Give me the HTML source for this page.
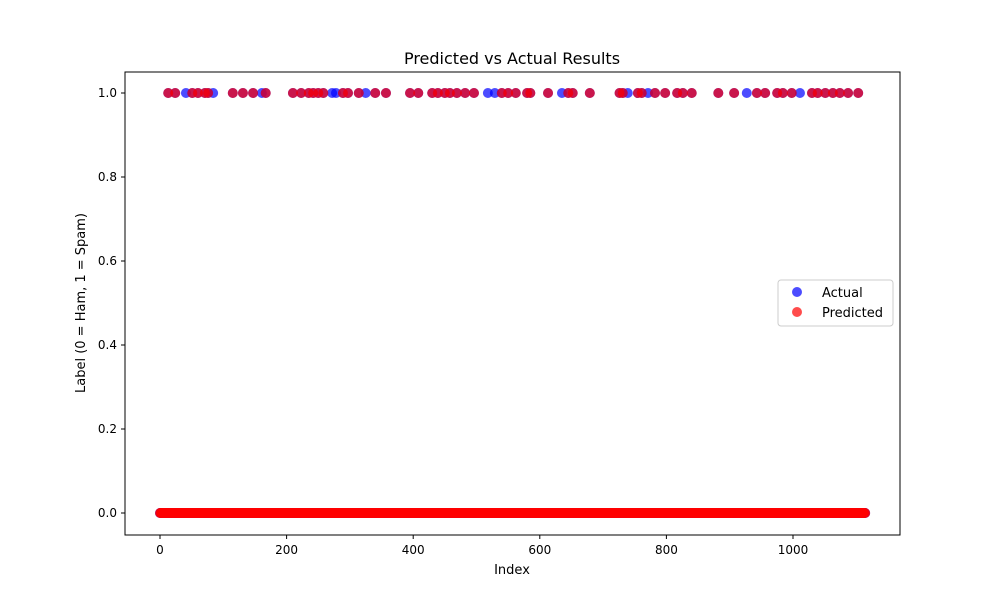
<!DOCTYPE html>
<html><head><meta charset="utf-8"><style>
body{margin:0;background:#fff;font-family:"Liberation Sans","DejaVu Sans",sans-serif;}
svg text{font-family:"DejaVu Sans","Liberation Sans",sans-serif;}
</style></head><body>
<svg id="chart" width="1000" height="600" xmlns="http://www.w3.org/2000/svg">
<rect width="1000" height="600" fill="#fff"/>
<text x="512" y="64" text-anchor="middle" font-size="16">Predicted vs Actual Results</text>
<g id="marks"></g>
<rect x="125" y="72" width="775" height="463" fill="none" stroke="#000" stroke-width="1"/>
<g id="axes"></g>
<text x="512" y="574" text-anchor="middle" font-size="13">Index</text>
<text transform="translate(85,303) rotate(-90)" text-anchor="middle" font-size="13">Label (0 = Ham, 1 = Spam)</text>
<g>
<rect x="778" y="280" width="115" height="46" rx="3" fill="#fff" stroke="#ccc"/>
<circle cx="797" cy="292" r="5" fill="blue" fill-opacity="0.7"/>
<text x="822" y="297" font-size="13">Actual</text>
<circle cx="797" cy="312" r="5" fill="red" fill-opacity="0.7"/>
<text x="822" y="317" font-size="13">Predicted</text>
</g>
</svg>
<script>
const N = 1115;
const spamBoth = [13,24,51,60,71,76,115,131,147,167,210,223,235,242,250,258,289,297,314,340,357,395,408,430,439,450,458,469,482,496,540,550,562,580,585,613,645,652,679,726,731,755,761,782,798,817,826,840,882,907,943,956,975,984,998,1030,1039,1051,1063,1074,1087,1103];
const spamActualOnly = [41,84,161,272,278,325,518,529,635,739,771,927,1011];
const spamPredictedOnly = [];
const yTicks = [0.0,0.2,0.4,0.6,0.8,1.0];
const yTickLabels = ["0.0","0.2","0.4","0.6","0.8","1.0"];
const xTicks = [0,200,400,600,800,1000];
const xTickLabels = ["0","200","400","600","800","1000"];
const NS="http://www.w3.org/2000/svg";
const xs = v => 160 + v*0.633;
const ys = v => 513 - v*420;
const actual = new Array(N).fill(0), predicted = new Array(N).fill(0);
spamBoth.forEach(i=>{actual[i]=1;predicted[i]=1;});
spamActualOnly.forEach(i=>{actual[i]=1;});
spamPredictedOnly.forEach(i=>{predicted[i]=1;});
const marks=document.getElementById('marks');
function draw(arr,color,name){
  const g=document.createElementNS(NS,'g');
  
  
  arr.forEach((v,i)=>{
    const c=document.createElementNS(NS,'circle');
    c.setAttribute('cx',xs(i));c.setAttribute('cy',ys(v));c.setAttribute('r',5);
    c.setAttribute('fill',color);c.setAttribute('fill-opacity',0.7);
    g.appendChild(c);
  });
  marks.appendChild(g);
}
draw(actual,'blue','actual-series');
draw(predicted,'red','predicted-series');
const axes=document.getElementById('axes');
function el(tag,attrs,txt){const e=document.createElementNS(NS,tag);for(const k in attrs)e.setAttribute(k,attrs[k]);if(txt!==undefined)e.textContent=txt;axes.appendChild(e);return e;}
yTicks.forEach((v,i)=>{
  const l=el('line',{x1:125,x2:121,y1:ys(v),y2:ys(v),stroke:'#000'});
  
  
  const t=el('text',{x:117,y:ys(v)+4,'text-anchor':'end','font-size':12},yTickLabels[i]);
  
  
});
xTicks.forEach((v,i)=>{
  const l=el('line',{x1:xs(v),x2:xs(v),y1:535,y2:539,stroke:'#000'});
  
  
  const t=el('text',{x:xs(v),y:554,'text-anchor':'middle','font-size':12},xTickLabels[i]);
  
  
});
</script>
</body></html>
